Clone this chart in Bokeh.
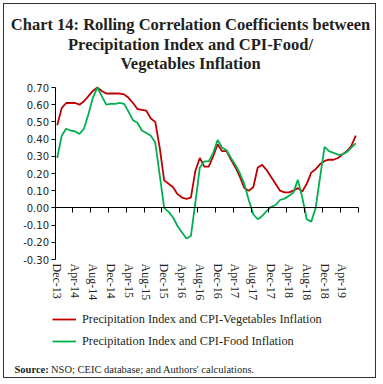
import pandas as pd
from bokeh.plotting import figure
from bokeh.models import FixedTicker, LinearAxis, Legend, LegendItem, Range1d, Label
from bokeh.embed import file_html
from bokeh.resources import INLINE

months = [d.strftime("%b-%y") for d in pd.date_range("2013-12-01", periods=68, freq="MS")]
tick_labels = ["Dec-13", "Apr-14", "Aug-14", "Dec-14", "Apr-15", "Aug-15", "Dec-15", "Apr-16",
               "Aug-16", "Dec-16", "Apr-17", "Aug-17", "Dec-17", "Apr-18", "Aug-18", "Dec-18", "Apr-19"]
y_ticks = [-0.3, -0.2, -0.1, 0.0, 0.1, 0.2, 0.3, 0.4, 0.5, 0.6, 0.7]

veg = [0.48, 0.58, 0.61, 0.61, 0.61, 0.60, 0.62, 0.65, 0.68, 0.70,
       0.68, 0.665, 0.665, 0.665, 0.665, 0.66, 0.64, 0.61, 0.575, 0.57,
       0.565, 0.52, 0.50, 0.35, 0.16, 0.14, 0.12, 0.08, 0.06, 0.053,
       0.06, 0.215, 0.29, 0.24, 0.24, 0.30, 0.37, 0.33, 0.33, 0.28,
       0.235, 0.18, 0.115, 0.10, 0.12, 0.235, 0.25, 0.22, 0.18, 0.14,
       0.10, 0.09, 0.09, 0.10, 0.115, 0.095, 0.14, 0.205, 0.225, 0.255,
       0.273, 0.28, 0.28, 0.29, 0.31, 0.33, 0.36, 0.42]
food = [0.29, 0.42, 0.46, 0.45, 0.445, 0.43, 0.46, 0.545, 0.64, 0.70,
        0.65, 0.60, 0.605, 0.605, 0.61, 0.605, 0.56, 0.51, 0.495, 0.45,
        0.435, 0.42, 0.38, 0.19, 0.00, -0.023, -0.056, -0.105, -0.143, -0.178,
        -0.163, 0.03, 0.235, 0.27, 0.27, 0.32, 0.395, 0.35, 0.335, 0.29,
        0.25, 0.20, 0.138, 0.045, -0.037, -0.066, -0.047, -0.017, 0.006, 0.017,
        0.046, 0.054, 0.07, 0.09, 0.163, 0.06, -0.066, -0.08, 0.0, 0.18,
        0.355, 0.33, 0.32, 0.31, 0.31, 0.325, 0.35, 0.375]

title_lines = ["Chart 14: Rolling Correlation Coefficients between",
               "Precipitation Index and CPI-Food/",
               "Vegetables Inflation"]
legend_labels = ["Precipitation Index and CPI-Vegetables Inflation",
                 "Precipitation Index and CPI-Food Inflation"]
source_bold = "Source:"
source_text = "NSO; CEIC database; and Authors' calculations."

RED = "#C00000"
GREEN = "#00B050"
TXT = "#231F20"
SERIF = "Liberation Serif"

n = len(months)
x = list(range(n))
x0, x1 = -0.5, n - 0.5
y0, y1 = y_ticks[0], y_ticks[-1]

# canvas layout (pixels): the frame covers the whole canvas, the axes sit at fixed places
W, H = 373, 375
PL, PR, PT, PB = 50.5, 353.5, 83, 255      # plot area edges in canvas pixels
sx = (PR - PL) / (x1 - x0)
sy = (PB - PT) / (y1 - y0)
xr = Range1d(x0 - PL / sx, x1 + (W - PR) / sx)
yr = Range1d(y0 - (H - PB) / sy, y1 + PT / sy)

p = figure(width=W, height=H, output_backend="svg", toolbar_location=None,
           x_range=xr, y_range=yr, x_axis_location=None, y_axis_location=None,
           min_border=0)
p.min_border_left = p.min_border_right = p.min_border_top = p.min_border_bottom = 0
p.outline_line_color = None
p.grid.grid_line_color = None
p.background_fill_color = "white"
p.border_fill_color = "white"
p.styles = {"border": "1px solid #333333", "margin-left": "3px", "margin-top": "3px"}

r_veg = p.line(x, veg, line_color=RED, line_width=1.8)
r_food = p.line(x, food, line_color=GREEN, line_width=1.8)

# y axis
ya = LinearAxis(fixed_location=x0, bounds=(y0, y1),
                ticker=FixedTicker(ticks=y_ticks),
                major_label_overrides={t: f"{t:.2f}" for t in y_ticks},
                major_label_text_font="DejaVu Sans", major_label_text_font_size="10px",
                major_label_text_color=TXT, major_tick_out=4, major_tick_in=0,
                minor_tick_out=0, minor_tick_in=0, major_label_standoff=2,
                axis_line_color="black", major_tick_line_color="black")
p.add_layout(ya, "left")

# x axis labels at the bottom of the plot area
xa = LinearAxis(fixed_location=y0, bounds=(x0, x1),
                ticker=FixedTicker(ticks=[months.index(m) for m in tick_labels]),
                major_label_overrides={months.index(m): m for m in tick_labels},
                major_label_orientation="vertical",
                major_label_text_font=SERIF, major_label_text_font_size="12px",
                major_label_text_color=TXT, axis_line_color=None,
                major_tick_line_color=None, minor_tick_line_color=None,
                major_tick_out=0, major_tick_in=0, major_label_standoff=4)
p.add_layout(xa, "below")

# zero-line axis with ticks between categories
bounds = [i - 0.5 for i in range(0, n + 1, 4)]
za = LinearAxis(fixed_location=0, bounds=(x0, x1),
                ticker=FixedTicker(ticks=[], minor_ticks=bounds),
                major_label_text_font_size="0px",
                axis_line_color="black", minor_tick_line_color="black",
                minor_tick_out=5, minor_tick_in=0, major_tick_out=0, major_tick_in=0)
p.add_layout(za, "below")

legend = Legend(items=[LegendItem(label=legend_labels[0], renderers=[r_veg]),
                       LegendItem(label=legend_labels[1], renderers=[r_food])],
                location=(48, 30), orientation="vertical",
                label_text_font=SERIF, label_text_font_size="12.3px", label_text_color=TXT,
                glyph_width=24, glyph_height=16, label_height=16, spacing=6,
                label_standoff=6, padding=0, margin=0,
                border_line_color=None, background_fill_alpha=0)
p.add_layout(legend)

# title lines
for t, yy in zip(title_lines, [355.5, 335.5, 316.5]):
    p.add_layout(Label(x=186, y=yy, x_units="screen", y_units="screen", text=t,
                       text_align="center", text_baseline="alphabetic",
                       text_font=SERIF, text_font_style="bold",
                       text_font_size="16.5px", text_color=TXT))

# source note
p.add_layout(Label(x=10, y=10.5, x_units="screen", y_units="screen", text=source_bold,
                   text_align="left", text_baseline="alphabetic",
                   text_font=SERIF, text_font_style="bold", text_font_size="10.5px",
                   text_color=TXT))
p.add_layout(Label(x=46.5, y=10.5, x_units="screen", y_units="screen", text=source_text,
                   text_align="left", text_baseline="alphabetic",
                   text_font=SERIF, text_font_size="10.5px", text_color=TXT))

open("out.html", "w").write(file_html(p, INLINE))
